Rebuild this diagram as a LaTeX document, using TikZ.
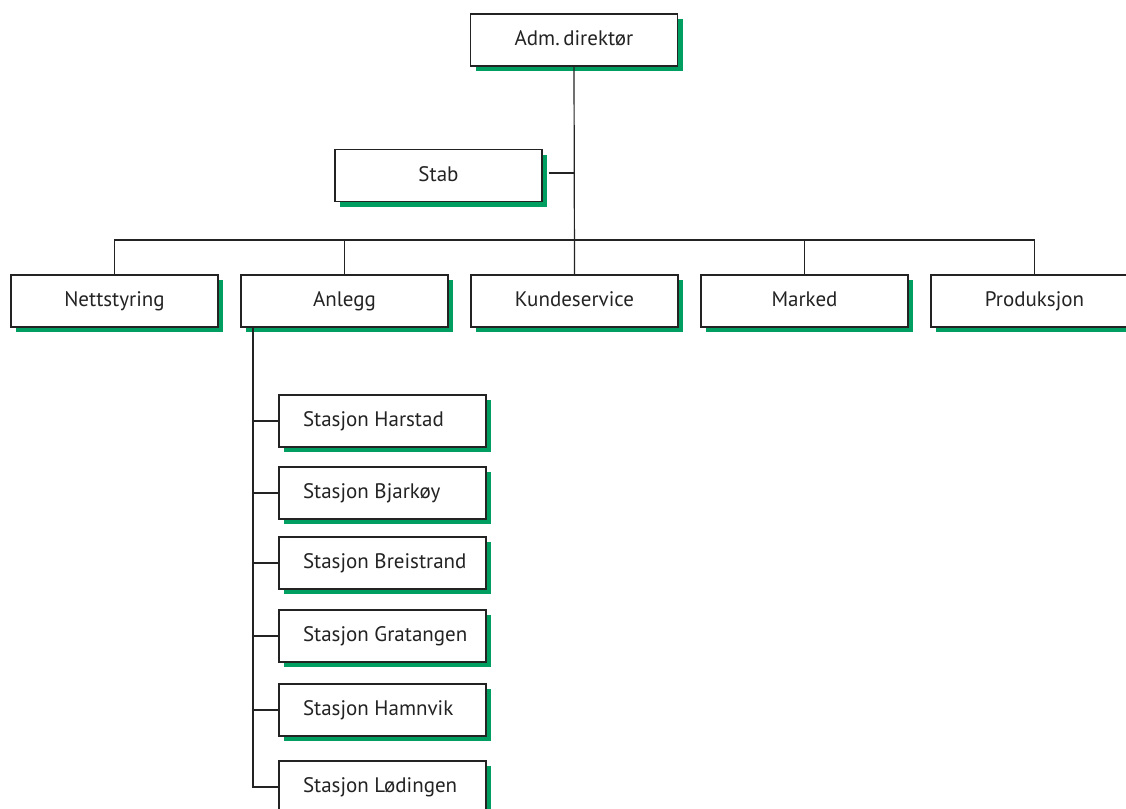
\documentclass[tikz,border=0pt]{standalone}
\usepackage{fontspec}
\setmainfont{PT Sans}
\usetikzlibrary{shadows}
\definecolor{shadowgreen}{RGB}{0,158,96}
\definecolor{ink}{RGB}{35,35,35}
\newcommand{\stn}[1]{\makebox[159pt][l]{#1}}
\begin{document}
\begin{tikzpicture}[x=1pt,y=-1pt,
  box/.style={draw=ink, line width=1.2pt, fill=white, minimum width=207pt, minimum height=52pt,
    inner sep=0pt, text height=15pt, text depth=4pt, font=\fontsize{21}{24}\selectfont, text=ink,
    drop shadow={shadow xshift=5pt, shadow yshift=-5pt, fill=shadowgreen, opacity=1}},
  stationbox/.style={box},
  conn/.style={draw=ink, line width=1.2pt}]
\useasboundingbox (0,0) rectangle (1126,808);
\node[box] (adm) at (574,40) {Adm.\,direktør};
\node[box] (stab) at (438.5,175.5) {Stab};
\node[box] (nett) at (114.5,301) {Nettstyring};
\node[box] (anl) at (344.5,301) {Anlegg};
\node[box] (kunde) at (574.5,301) {Kundeservice};
\node[box] (marked) at (804.5,301) {Marked};
\node[box] (prod) at (1034.5,301) {Produksjon};
\node[stationbox] (s1) at (382.5,421) {\stn{Stasjon Harstad}};
\node[stationbox] (s2) at (382.5,493) {\stn{Stasjon Bjarkøy}};
\node[stationbox] (s3) at (382.5,563) {\stn{Stasjon Breistrand}};
\node[stationbox] (s4) at (382.5,636) {\stn{Stasjon Gratangen}};
\node[stationbox] (s5) at (382.5,710) {\stn{Stasjon Hamnvik}};
\node[stationbox] (s6) at (382.5,787) {\stn{Stasjon Lødingen}};
\coordinate (bus) at (574.5,240);
\draw[conn] (adm.south) -- (kunde.north);
\draw[conn] ([xshift=6pt,yshift=2.5pt]stab.east) -- ([yshift=2.5pt]stab.east -| kunde.north);
\draw[conn] (nett.north) |- (bus) -| (prod.north);
\draw[conn] (anl.north) -- (anl.north |- bus);
\draw[conn] (marked.north) -- (marked.north |- bus);
\coordinate (ax) at (253,301);
\draw[conn] (ax |- anl.south) -- (ax |- s6.west) -- (s6.west);
\foreach \s in {s1,s2,s3,s4,s5}{\draw[conn] (ax |- \s.west) -- (\s.west);}
\end{tikzpicture}
\end{document}
